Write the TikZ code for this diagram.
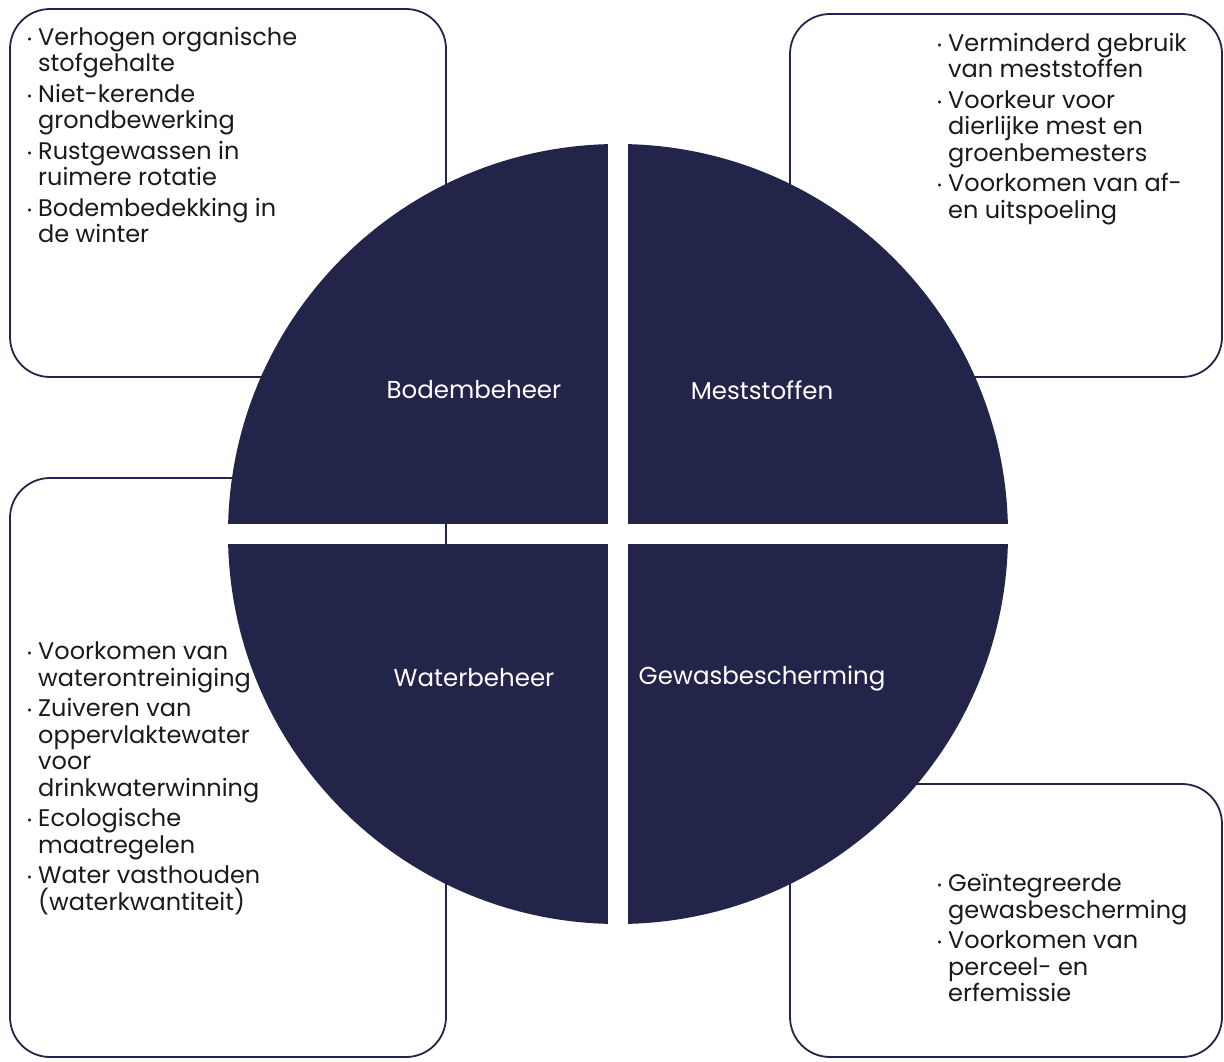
\documentclass[tikz,border=0pt]{standalone}
\usepackage{fontspec}
\setmainfont{Poppins}
\definecolor{navy}{HTML}{22244A}
\definecolor{ink}{HTML}{1A1A1A}
\newcommand{\bul}{\makebox[10pt][l]{\hspace*{-1pt}\raisebox{2pt}{\fontsize{12}{12}\selectfont •}}}
\newcommand{\ind}{\hspace*{10pt}}
\tikzset{
  infobox/.style={draw=navy, line width=1.8pt, rounded corners=40pt},
  infotext/.style={anchor=north west, inner sep=0pt, align=left, text=ink,
    font=\fontsize{24}{26.5}\selectfont},
  quad/.style={fill=navy},
  quadlabel/.style={text=white, font=\fontsize{24.5}{27}\selectfont, inner sep=0pt}
}
\begin{document}
\begin{tikzpicture}[x=1pt,y=-1pt]
\useasboundingbox (0,0) rectangle (1224,1061);
% boxes
\draw[infobox] (10,9) rectangle (446,377);
\draw[infobox] (790,14) rectangle (1222,377);
\draw[infobox] (10,478) rectangle (446,1057);
\draw[infobox] (790,784) rectangle (1222,1057);
% texts
\node[infotext] (tl) at (28,27) {\bul Verhogen organische\\ \ind stofgehalte\\[4pt]
\bul Niet-kerende\\ \ind grondbewerking\\[4pt]
\bul Rustgewassen in\\ \ind ruimere rotatie\\[4pt]
\bul Bodembedekking in\\ \ind de winter};
\node[infotext] (tr) at (938,33) {\bul Verminderd gebruik\\ \ind van meststoffen\\[4pt]
\bul Voorkeur voor\\ \ind dierlijke mest en\\ \ind groenbemesters\\[4pt]
\bul Voorkomen van af-\\ \ind en uitspoeling};
\node[infotext] (bl) at (28,642) {\bul Voorkomen van\\ \ind waterontreiniging\\[4pt]
\bul Zuiveren van\\ \ind oppervlaktewater\\ \ind voor\\ \ind drinkwaterwinning\\[4pt]
\bul Ecologische\\ \ind maatregelen\\[4pt]
\bul Water vasthouden\\ \ind (waterkwantiteit)};
\node[infotext] (br) at (938,874) {\bul Geïntegreerde\\ \ind gewasbescherming\\[4pt]
\bul Voorkomen van\\ \ind perceel- en\\ \ind erfemissie};
% circle quadrants
\begin{scope}
\clip (618,534) circle (390);
\fill[quad] (200,100) rectangle (608,524);
\fill[quad] (628,100) rectangle (1040,524);
\fill[quad] (200,544) rectangle (608,960);
\fill[quad] (628,544) rectangle (1040,960);
\end{scope}
\node[quadlabel] (q1) at (474,390) {Bodembeheer};
\node[quadlabel] (q2) at (762,390) {Meststoffen};
\node[quadlabel] (q3) at (474,678) {Waterbeheer};
\node[quadlabel] (q4) at (762,678) {Gewasbescherming};
\end{tikzpicture}
\end{document}
